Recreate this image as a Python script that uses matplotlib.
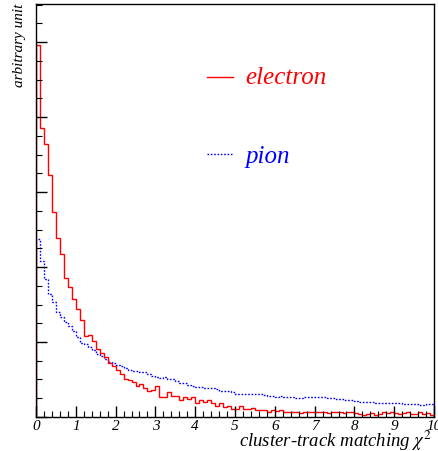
import numpy as np
import matplotlib
matplotlib.use("Agg")
import matplotlib.pyplot as plt
from matplotlib.ticker import MultipleLocator, NullFormatter

# bin edges: 100 bins of width 0.1 from 0 to 10
bin_edges = [round(0.1 * i, 1) for i in range(101)]

electron = [4.96, 3.85, 3.64, 3.23, 2.73, 2.39, 2.18, 1.86, 1.73, 1.57,
            1.44, 1.30, 1.08, 1.09, 1.02, 0.91, 0.85, 0.80, 0.72, 0.68,
            0.63, 0.57, 0.50, 0.49, 0.47, 0.41, 0.44, 0.38, 0.34, 0.36,
            0.41, 0.27, 0.27, 0.33, 0.28, 0.28, 0.22, 0.27, 0.24, 0.27,
            0.18, 0.22, 0.20, 0.23, 0.18, 0.15, 0.19, 0.13, 0.14, 0.10,
            0.10, 0.14, 0.10, 0.10, 0.12, 0.09, 0.09, 0.09, 0.07, 0.09,
            0.08, 0.09, 0.07, 0.06, 0.06, 0.06, 0.05, 0.07, 0.07, 0.06,
            0.07, 0.06, 0.07, 0.05, 0.06, 0.07, 0.06, 0.05, 0.07, 0.06,
            0.05, 0.04, 0.03, 0.04, 0.05, 0.03, 0.04, 0.07, 0.05, 0.07,
            0.05, 0.04, 0.05, 0.06, 0.04, 0.04, 0.06, 0.04, 0.05, 0.03]

pion = [2.37, 2.08, 1.84, 1.64, 1.53, 1.40, 1.34, 1.27, 1.21, 1.15,
        1.07, 0.99, 0.97, 0.93, 0.89, 0.84, 0.81, 0.77, 0.74, 0.72,
        0.70, 0.68, 0.65, 0.62, 0.61, 0.61, 0.60, 0.60, 0.57, 0.55,
        0.53, 0.52, 0.53, 0.51, 0.50, 0.48, 0.45, 0.45, 0.43, 0.41,
        0.40, 0.40, 0.39, 0.38, 0.38, 0.37, 0.35, 0.34, 0.34, 0.33,
        0.31, 0.30, 0.30, 0.30, 0.31, 0.30, 0.30, 0.29, 0.28, 0.28,
        0.27, 0.28, 0.27, 0.26, 0.26, 0.25, 0.25, 0.26, 0.27, 0.26,
        0.26, 0.27, 0.26, 0.25, 0.25, 0.24, 0.24, 0.23, 0.23, 0.22,
        0.21, 0.20, 0.20, 0.20, 0.20, 0.19, 0.19, 0.19, 0.19, 0.19,
        0.18, 0.18, 0.17, 0.17, 0.17, 0.17, 0.16, 0.16, 0.17, 0.17]

xticks = list(range(11))
xticklabels = [str(v) for v in xticks]

plt.rcParams['font.family'] = ['Liberation Serif', 'DejaVu Serif']
plt.rcParams['mathtext.fontset'] = 'stix'

fig = plt.figure(figsize=(4.38, 4.51), dpi=100)
ax = fig.add_axes([0.0822, 0.0754, 0.9088, 0.9157])

ax.stairs(pion, bin_edges, color='blue', linestyle=(0, (1.2, 1.2)), linewidth=1.0)
ax.stairs(electron, bin_edges, color='red', linewidth=1.0)

ax.set_xlim(0, 10)
ax.set_ylim(0, 5.507)

ax.set_xticks(xticks)
ax.set_xticklabels(xticklabels, fontstyle='italic', fontsize=11)
ax.xaxis.set_minor_locator(MultipleLocator(0.2))
ax.yaxis.set_major_locator(MultipleLocator(1))
ax.yaxis.set_minor_locator(MultipleLocator(0.25))
ax.yaxis.set_major_formatter(NullFormatter())
ax.tick_params(axis='both', which='major', direction='in', length=8, width=1, pad=2)
ax.tick_params(axis='both', which='minor', direction='in', length=4, width=0.8)
ax.tick_params(top=False, right=False, which='both')
for s in ax.spines.values():
    s.set_linewidth(1.0)

fig.text(0.986, 0.008, 'cluster-track matching $\\mathit{\\chi}^{2}$', fontstyle='italic',
         fontsize=13.5, ha='right', va='baseline')
ax.set_ylabel('arbitrary unit', fontstyle='italic', fontsize=11, loc='top', labelpad=4)

# legend drawn as in original (line + text)
ax.plot([4.3, 4.95], [4.53, 4.53], color='red', linewidth=1.0)
ax.text(5.25, 4.52, 'electron', color='red', fontstyle='italic', fontsize=18, va='center')
ax.plot([4.3, 4.95], [3.51, 3.51], color='blue', linewidth=1.0, linestyle=(0, (1.2, 1.2)))
ax.text(5.25, 3.47, 'pion', color='blue', fontstyle='italic', fontsize=18, va='center')

fig.savefig('out.png', dpi=100)
